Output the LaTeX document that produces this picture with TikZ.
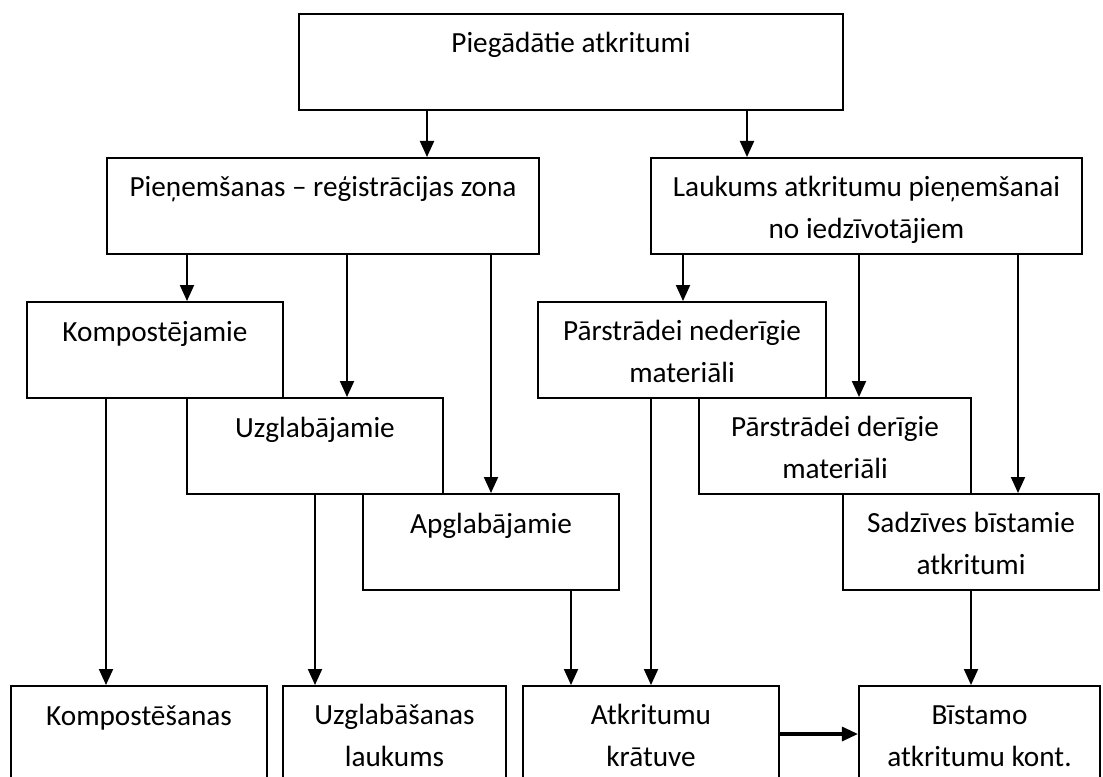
\documentclass[tikz,border=0pt]{standalone}
\usepackage{fontspec}
\setmainfont{Carlito}
\usetikzlibrary{arrows.meta}

\begin{document}
\begin{tikzpicture}[x=0.025cm, y=-0.025cm]
\tikzset{kaste/.style={draw, fill=white, line width=1.4pt, inner sep=0pt, anchor=north, align=center,
  minimum height=2.4cm, text height=0.975cm, text depth=1.425cm, font=\fontsize{20.8}{29.2}\selectfont},
  divrindas/.style={text height=2cm, text depth=0.4cm},
  bulta/.style={line width=1.4pt, -{Triangle[length=0.4cm, width=0.35cm]}}}
\clip (0,0) rectangle (1103,776);
\node[kaste, minimum width=13.6cm] (pieg) at (571,13) {Piegādātie atkritumi};
\node[kaste, minimum width=10.8cm] (pien) at (323,157) {Pieņemšanas – reģistrācijas zona};
\node[kaste, divrindas, minimum width=10.775cm] (lauk) at (866.5,157) {Laukums atkritumu pieņemšanai\\no iedzīvotājiem};
\node[kaste, minimum width=6.4cm] (kompj) at (155,301) {Kompostējamie};
\node[kaste, divrindas, minimum width=7.2cm] (nederig) at (682,301) {Pārstrādei nederīgie\\materiāli};
\node[kaste, minimum width=6.4cm] (uzglj) at (315,397) {Uzglabājamie};
\node[kaste, divrindas, minimum width=6.8cm] (derig) at (835,397) {Pārstrādei derīgie\\materiāli};
\node[kaste, minimum width=6.4cm] (apglj) at (491,493) {Apglabājamie};
\node[kaste, divrindas, minimum width=6.4cm] (sadz) at (971,493) {Sadzīves bīstamie\\atkritumi};
\node[kaste, minimum width=6.4cm] (kompt) at (139,685) {Kompostēšanas};
\node[kaste, divrindas, minimum width=5.575cm] (uzglt) at (394.5,685) {Uzglabāšanas\\laukums};
\node[kaste, divrindas, minimum width=6.4cm] (kratuve) at (651,685) {Atkritumu\\krātuve};
\node[kaste, divrindas, minimum width=6.025cm] (bist) at (979.5,685) {Bīstamo\\atkritumu kont.};
% bultas
\draw[bulta] (pieg.south -| 427,0) -- (pien.north -| 427,0);
\draw[bulta] (pieg.south -| 747,0) -- (lauk.north -| 747,0);
\draw[bulta] (pien.south -| 187,0) -- (kompj.north -| 187,0);
\draw[bulta] (pien.south -| 347,0) -- (uzglj.north -| 347,0);
\draw[bulta] (pien.south -| 491,0) -- (apglj.north -| 491,0);
\draw[bulta] (lauk.south -| 683,0) -- (nederig.north -| 683,0);
\draw[bulta] (lauk.south -| 859,0) -- (derig.north -| 859,0);
\draw[bulta] (lauk.south -| 1018,0) -- (sadz.north -| 1018,0);
\draw[bulta] (kompj.south -| 106,0) -- (kompt.north -| 106,0);
\draw[bulta] (uzglj.south -| 315,0) -- (uzglt.north -| 315,0);
\draw[bulta] (apglj.south -| 571,0) -- (kratuve.north -| 571,0);
\draw[bulta] (nederig.south -| 651,0) -- (kratuve.north -| 651,0);
\draw[bulta] (sadz.south -| 971,0) -- (bist.north -| 971,0);
\draw[bulta, line width=2.2pt] (kratuve.east) -- (bist.west);
\end{tikzpicture}
\end{document}
